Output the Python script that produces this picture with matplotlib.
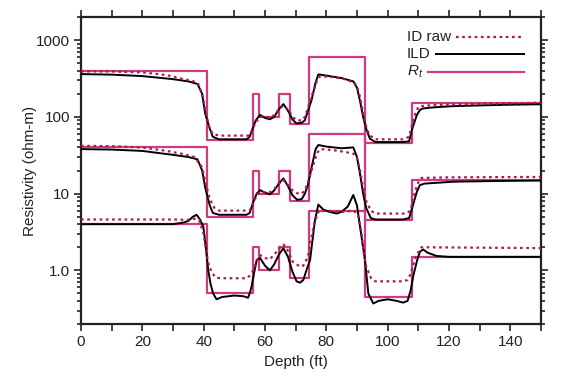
import numpy as np
import matplotlib
matplotlib.use("Agg")
import matplotlib.pyplot as plt
from matplotlib.lines import Line2D
from matplotlib.ticker import LogLocator, FixedLocator, NullFormatter, MultipleLocator

# ---------------- data ----------------
# True formation resistivity (step profile), boundaries in ft
rt_bounds = [0, 41, 56, 58, 64.5, 68, 74.5, 92.5, 108, 150]
rt_top = [400, 50, 200, 100, 200, 80, 600, 45, 150]
rt_mid = [40, 5, 20, 10, 20, 8, 60, 4.5, 15]
rt_bot = [4, 0.5, 2, 1, 2, 0.8, 6, 0.45, 1.5]

# ILD response, top group
ild_top_d = [0, 10, 20, 30, 35, 38, 39.5, 40.5, 42, 43, 45, 50, 54, 55, 56, 57, 58.4, 60, 61.6, 63,
             64.5, 66, 67.5, 69, 70.3, 72, 73, 74, 75.2, 76.5, 77.4, 80, 85, 88.8, 90, 91, 92, 93,
             94.2, 96, 100, 105, 107, 108, 109.5, 110.5, 111.6, 115, 121.4, 130, 140, 150]
ild_top_v = [361, 355, 340, 310, 290, 268, 200, 110, 70, 55, 51, 51, 51, 55, 71, 90, 106, 97, 93, 100,
             125, 147, 120, 92, 82, 84, 90, 120, 166, 280, 358, 345, 320, 290, 240, 160, 100, 70,
             52, 47, 47, 47, 48, 70, 105, 123, 129, 133, 138, 141, 144, 146]

# ID raw response, top group
id_top_d = [0, 10, 20, 28, 32, 36, 38, 39.5, 41, 42, 43, 45, 55, 56, 57, 58.4, 60, 61.6, 63, 64.5,
            66, 67.5, 69, 70.3, 72, 73, 74, 75.5, 77, 78, 82, 86, 89, 90, 91, 92, 93, 94, 96, 105,
            107, 108, 109, 110, 112, 120, 130, 140, 150]
id_top_v = [392, 390, 380, 350, 320, 295, 280, 200, 100, 70, 60, 57, 57, 70, 85, 100, 100, 98, 105, 125,
            140, 125, 100, 90, 90, 100, 130, 200, 300, 340, 330, 310, 280, 250, 180, 110, 75, 58, 51, 51,
            55, 80, 110, 135, 140, 145, 148, 150, 153]

# ILD response, middle group
ild_mid_d = [0, 10, 20, 30, 35, 38, 39.5, 40.5, 42, 43, 45, 54, 55, 56.2, 57.3, 58.4, 60, 61.6, 63,
             64.5, 66, 67.5, 69, 70.5, 72, 73, 74, 75.2, 76.5, 77.4, 80, 85, 88.8, 90, 91, 92, 93,
             94.5, 96, 105, 107, 108, 109.5, 110.5, 112, 121.4, 135, 150]
ild_mid_v = [38, 37.5, 36, 32, 30, 28, 20, 12, 7, 5.6, 5.3, 5.3, 5.6, 7.8, 10, 11.1, 10.3, 9.8, 11,
             13.5, 15.8, 12.5, 9.5, 8.3, 8.5, 10, 13, 22, 38, 43, 41, 39, 40, 30, 18, 10, 6.5,
             4.8, 4.6, 4.6, 4.8, 6.5, 10.5, 12.9, 13.5, 14.3, 14.6, 14.8]

# ID raw response, middle group
id_mid_d = [0, 10, 20, 28, 33, 37, 39.5, 41, 42, 43.5, 45, 55, 56.2, 57.3, 58.4, 60, 61.6, 63, 64.5,
            66, 67.5, 69, 70.5, 72, 73, 74, 75.5, 77, 78, 82, 86, 89, 90, 91, 92, 93, 94.5, 96, 106,
            107.5, 108, 109, 110, 111, 120, 150]
id_mid_v = [42, 41.5, 40, 36, 33, 30, 22, 12, 8.5, 6.5, 6, 6, 7.5, 9.5, 10.5, 10.5, 10.4, 11.5, 13.5,
            15, 13, 11, 10.1, 10, 11, 14, 22, 34, 38, 37, 35, 33, 29, 20, 12, 8, 6, 5.5, 5.5,
            6, 7.5, 11, 14, 16, 16.3, 16.5]

# ILD response, bottom group
ild_bot_d = [0, 30, 33.4, 35, 36.5, 37.7, 38.8, 39.9, 40.7, 41.5, 42.3, 43.1, 44.2, 46, 50, 53, 54.5,
             55, 55.6, 56.5, 57.3, 58.4, 60, 61.6, 63, 64.5, 66, 67.5, 69, 70.3, 71.4, 72.5, 73.5,
             74.7, 75.5, 76.3, 77.4, 79, 81, 83.4, 85, 87, 88.8, 90, 91, 92.6, 93.7, 95.3, 97, 100,
             103, 105, 106.5, 107.5, 108.4, 109.5, 110.5, 111.6, 113, 116, 120, 150]
ild_bot_v = [4.0, 4.0, 4.2, 4.4, 5.0, 5.3, 4.6, 3.7, 2.0, 1.0, 0.65, 0.5, 0.42, 0.45, 0.47, 0.46, 0.44,
             0.5, 0.61, 0.95, 1.36, 1.45, 1.15, 1.0, 1.2, 1.6, 1.94, 1.5, 0.95, 0.72, 0.69, 0.75, 1.0,
             1.36, 2.5, 4.5, 7.2, 6.2, 5.8, 5.5, 5.8, 6.8, 9.6, 7.0, 3.7, 1.36, 0.5, 0.37, 0.4, 0.42,
             0.4, 0.38, 0.4, 0.55, 0.86, 1.3, 1.75, 1.87, 1.7, 1.54, 1.5, 1.5]

# ID raw response, bottom group
id_bot_d = [0, 30, 35, 37, 38.5, 40, 41, 41.8, 43, 44, 46, 54, 55, 56.2, 57.3, 58.4, 60, 61.6, 63,
            64.5, 66, 67.5, 69, 71.4, 72.5, 74, 75, 76, 77.4, 80, 85, 89, 90.5, 91.5, 92.3, 93,
            94.6, 96, 105, 106.5, 107.5, 108.4, 109.5, 111, 150]
id_bot_v = [4.6, 4.6, 4.55, 4.7, 4.5, 3.0, 1.6, 1.12, 0.9, 0.8, 0.79, 0.79, 0.85, 1.0, 1.35, 1.58, 1.45,
            1.4, 1.6, 1.9, 2.18, 1.8, 1.3, 1.12, 1.15, 1.5, 2.5, 4.0, 5.8, 6.0, 5.8, 6.0, 5.0, 3.0,
            1.6, 1.12, 0.79, 0.72, 0.72, 0.75, 0.9, 1.2, 1.6, 2.0, 1.95]

x_ticks = [0, 20, 40, 60, 80, 100, 120, 140]
y_ticks = [1, 10, 100, 1000]
y_ticklabels = ["1.0", "10", "100", "1000"]
legend_labels = ["ID raw", "ILD", "$R_t$"]

# ---------------- style ----------------
plt.rcParams['font.family'] = ['Liberation Sans', 'DejaVu Sans']
plt.rcParams['mathtext.fontset'] = 'custom'
plt.rcParams['mathtext.rm'] = 'Liberation Sans'
plt.rcParams['mathtext.it'] = 'Liberation Sans:italic'
RT_COLOR = '#d03a82'
ID_COLOR = '#b0174a'
INK = '#222222'
ID_STYLE = dict(color=ID_COLOR, lw=1.6, ls=(0, (1.2, 1.6)))
ILD_STYLE = dict(color='black', lw=1.4)
RT_STYLE = dict(color=RT_COLOR, lw=1.6)

fig = plt.figure(figsize=(5.66, 3.85), dpi=100)
ax = fig.add_axes([0.1431, 0.1584, 0.9558 - 0.1431, 0.9558 - 0.1584])

def step_xy(bounds, vals):
    xs, ys = [], []
    for i, v in enumerate(vals):
        xs += [bounds[i], bounds[i + 1]]
        ys += [v, v]
    return xs, ys

for ild_d, ild_v, id_d, id_v, rt in [
        (ild_top_d, ild_top_v, id_top_d, id_top_v, rt_top),
        (ild_mid_d, ild_mid_v, id_mid_d, id_mid_v, rt_mid),
        (ild_bot_d, ild_bot_v, id_bot_d, id_bot_v, rt_bot)]:
    sx, sy = step_xy(rt_bounds, rt)
    ax.plot(sx, sy, zorder=2, **RT_STYLE)
    ax.plot(ild_d, ild_v, zorder=3, **ILD_STYLE)
    ax.plot(id_d, id_v, zorder=4, **ID_STYLE)

ax.set_yscale('log')
ax.set_xlim(0, 150)
ax.set_ylim(0.2, 2000)

ax.xaxis.set_major_locator(FixedLocator(x_ticks))
ax.xaxis.set_minor_locator(MultipleLocator(10))
ax.yaxis.set_major_locator(FixedLocator(y_ticks))
ax.set_yticklabels(y_ticklabels)
ax.yaxis.set_minor_locator(LogLocator(base=10, subs=np.arange(2, 10)))
ax.yaxis.set_minor_formatter(NullFormatter())

ax.tick_params(axis='both', which='both', direction='out', top=True, right=True,
               labelsize=11, colors=INK, width=1.2)
ax.tick_params(axis='both', which='major', length=5, pad=3)
ax.tick_params(axis='y', which='minor', length=3)
ax.tick_params(axis='x', which='minor', length=5)
for s in ax.spines.values():
    s.set_linewidth(1.6)
    s.set_color(INK)

ax.set_xlabel('Depth (ft)', fontsize=11, color=INK, labelpad=4, x=0.467)
ax.set_ylabel('Resistivity (ohm-m)', fontsize=11, color=INK, labelpad=-1)

# ---- legend: left-aligned labels, sample line filling to a common right edge ----
fig.canvas.draw()
renderer = fig.canvas.get_renderer()
text_x = 0.7087
line_right = 0.963
rows_y = [0.9349, 0.8795, 0.8208]
styles = [ID_STYLE, ILD_STYLE, RT_STYLE]
for lab, yy, st in zip(legend_labels, rows_y, styles):
    t = ax.text(text_x, yy, lab, transform=ax.transAxes, ha='left', va='center',
                fontsize=11, color=INK)
    bb = t.get_window_extent(renderer=renderer)
    x0 = ax.transAxes.inverted().transform((bb.x1 + 5, 0))[0]
    ax.add_line(Line2D([x0, line_right], [yy, yy], transform=ax.transAxes, **st))

fig.savefig('out.png', dpi=100)
